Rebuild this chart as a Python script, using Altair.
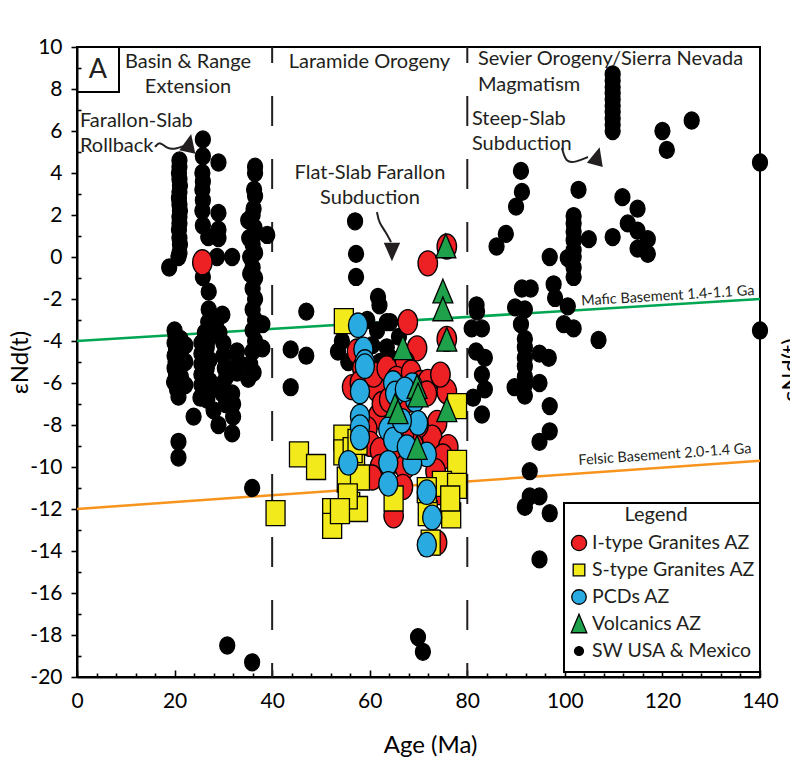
import altair as alt
import pandas as pd

FONT = "Lato"
INK = "#231F20"

# ---------------- data ----------------
sw_age = [
    21.0, 21.0, 20.9, 21.0, 21.1, 21.0, 20.9, 21.0, 21.1, 21.0, 21.0, 20.9, 21.0, 21.1, 21.0, 20.8,
    18.9,
    20.0, 20.2, 20.0, 20.3, 20.0, 20.2, 20.0, 20.3, 19.9, 20.5, 20.8, 21.2, 21.4, 21.3,
    22.2, 22.2, 22.2, 20.8, 20.8, 23.9,
    25.8, 25.8, 25.7, 25.8, 25.7, 25.8, 25.7, 25.8, 26.9, 25.8, 27.0, 27.0, 26.9, 26.2, 25.5, 25.5,
    25.5, 25.5, 25.5, 25.3, 26.6, 26.6, 27.2, 27.6, 26.7, 28.0, 27.0, 27.2,
    29.0, 29.0, 29.0, 29.0, 28.7, 31.8,
    29.8, 28.7, 30.0, 30.0, 30.3, 30.0, 29.8, 30.5, 29.0, 29.2, 30.6,
    31.8, 32.0, 32.0, 31.8, 32.8, 32.8, 33.0,
    36.5, 36.5, 36.3, 36.5, 36.2, 36.0, 35.1, 36.4, 36.2, 35.3, 36.0, 35.5, 36.5, 36.0, 35.5, 36.5,
    36.0, 36.5, 36.0, 36.5, 36.0, 36.5, 36.0, 35.5, 35.1, 36.2,
    39.0, 38.0, 38.0, 35.9, 30.8, 35.9,
    57.0, 57.2, 57.2, 61.7, 62.0, 47.0, 43.8, 47.0, 43.8, 63.5, 61.5, 64.2, 54.3, 53.5, 55.6, 62.1,
    63.5, 64.2, 60.5, 59.5, 66.0, 69.9, 70.9,
    81.9, 82.0, 80.9, 83.0, 81.8, 83.6, 83.0, 83.6, 81.2, 83.0,
    86.0, 87.9, 90.0, 91.2, 91.0,
    89.8, 91.8, 91.0, 91.8, 91.8, 91.8, 91.8, 91.8, 91.8, 91.8, 89.7,
    91.2, 93.0,
    94.8, 96.7, 94.8, 96.9, 96.9, 94.8, 92.8, 92.8, 94.8, 91.8, 96.9, 94.8,
    96.9, 97.7, 98.0, 100.6, 99.8, 101.8, 106.9,
    102.8, 101.8, 101.8, 101.8, 101.8, 101.8, 101.8, 101.8, 101.8, 100.6, 104.9,
    109.8, 109.8, 109.8, 109.8, 109.8, 109.8, 109.8, 109.8, 109.8, 109.8,
    109.8, 111.8, 114.9, 112.9, 114.9, 117.0, 114.9, 117.0,
    120.0, 120.9, 126.0,
    140.0, 140.0,
]
sw_end = [
    4.6, 4.3, 4.0, 3.7, 3.4, 3.1, 2.8, 2.5, 2.2, 1.9, 1.6, 1.3, 0.9, 0.6, 0.2, 0.0,
    -0.5,
    -3.5, -3.8, -4.1, -4.4, -4.7, -5.0, -5.3, -5.6, -5.95, -6.3, -6.65, -3.9, -4.8, -5.7,
    -4.2, -5.0, -6.1, -8.8, -9.55, -7.6,
    5.6, 4.8, 4.0, 3.6, 3.2, 2.7, 2.2, 1.5, 0.95, -0.95, -1.65, -2.5, -3.1, -3.6, -4.1, -4.6,
    -5.1, -5.6, -6.1, -6.7, -4.3, -5.3, -5.9, -6.3, -6.8, -7.3, -3.9, -4.9,
    4.5, 2.1, 1.3, 0.9, 0.0, 0.0,
    -2.75, -3.0, -4.1, -4.7, -5.3, -6.0, -6.5, -7.0, -8.0, -3.6, -5.7,
    -6.5, -7.0, -7.6, -8.4, -4.5, -5.5, -5.0,
    4.3, 4.0, 3.2, 2.9, 2.3, 2.0, 1.75, 1.4, 1.0, 0.9, 0.6, 0.0, 0.2, -0.5, -0.8, -1.0,
    -1.5, -2.0, -2.5, -3.0, -3.5, -4.0, -4.5, -5.1, -5.8, -5.5,
    1.05, -3.2, -4.35, -11.0, -18.5, -19.3,
    1.7, 0.15, -0.95, -1.9, -2.3, -2.6, -4.4, -4.7, -6.2, -3.1, -3.5, -3.1, -4.0, -4.5, -5.0, -5.0,
    -4.3, -4.8, -4.2, -3.0, -3.8, -18.1, -18.8,
    -2.3, -2.6, -3.4, -3.4, -4.5, -4.8, -5.6, -6.3, -6.7, -7.5,
    0.5, 1.1, 2.4, 3.1, 4.1,
    -2.4, -2.5, -3.2, -3.9, -4.3, -4.8, -5.2, -5.7, -6.1, -6.6, -6.2,
    -1.5, -1.5,
    -4.6, -4.8, -6.0, -7.1, -8.3, -8.8, -10.2, -11.4, -11.4, -11.9, -12.2, -14.4,
    0.0, -1.3, -1.95, -2.35, -3.2, -3.4, -3.95,
    3.2, 1.95, 1.6, 1.2, 0.8, 0.33, 0.0, -0.5, -0.95, -0.05, 0.85,
    8.7, 8.4, 8.1, 7.8, 7.5, 7.2, 6.9, 6.6, 6.3, 6.0,
    0.95, 2.85, 2.3, 1.6, 1.25, 0.85, 0.4, 0.15,
    6.0, 5.1, 6.5,
    4.5, -3.5,
]

itype_age = [25.7, 71.9, 75.8, 75.8, 67.8, 69.7, 67.2, 57.4, 58.5, 56.4, 58.0, 61.5, 60.8, 63.5, 65.5,
             68.5, 61.7, 62.5, 64.0, 66.0, 68.0, 70.5, 71.9, 71.7, 73.8, 75.8, 74.5, 72.8, 76.1, 75.0,
             70.0, 69.0, 67.0, 65.0, 59.5, 60.1, 62.1, 62.1, 64.8, 67.2, 66.8, 64.9, 73.8, 60.5, 73.5,
             74.5]
itype_end = [-0.25, -0.3, 0.5, -3.9, -3.1, -4.35, -5.05, -4.5, -5.3, -6.2, -6.0, -6.3, -5.6, -5.3, -5.8,
             -5.5, -7.6, -7.0, -6.8, -7.4, -6.8, -6.0, -5.95, -6.5, -7.9, -6.4, -5.6, -8.6, -9.05, -9.5,
             -8.0, -9.0, -8.5, -8.2, -8.2, -8.9, -9.2, -10.0, -9.7, -10.0, -10.95, -12.3, -13.6, -10.5, -10.2,
             -11.2]

stype_age = [54.7, 45.5, 49.0, 40.7, 54.6, 54.6, 57.0, 55.3, 58.0, 52.3, 52.3, 56.0, 57.6, 55.5, 53.9,
             56.5, 64.9, 77.9, 77.9, 74.8, 77.9, 76.7, 71.9, 72.5, 71.7, 76.5, 57.5]
stype_end = [-3.05, -9.4, -10.0, -12.2, -8.6, -9.3, -10.0, -10.6, -10.5, -12.1, -12.8, -11.8, -12.0, -11.4, -12.1,
             -9.2, -11.5, -7.1, -9.8, -10.8, -10.9, -12.3, -12.2, -13.6, -11.1, -11.5, -8.8]

pcd_age = [57.6, 58.7, 59.0, 59.0, 58.0, 58.0, 58.0, 58.0, 55.6, 64.8, 65.2, 68.7, 69.3, 69.9, 63.8,
           64.8, 63.8, 63.8, 71.7, 71.7, 72.8, 71.7, 68.7, 67.6, 66.6, 67.2]
pcd_end = [-3.25, -4.4, -5.0, -5.2, -6.4, -7.6, -8.1, -8.6, -9.8, -6.0, -6.5, -6.1, -6.8, -7.9, -8.2,
           -8.7, -9.8, -10.8, -9.4, -11.2, -12.4, -13.7, -9.8, -9.05, -7.8, -6.3]

volc_age = [75.6, 75.0, 75.0, 75.8, 66.8, 69.7, 69.9, 65.2, 65.8, 75.8, 69.7]
volc_end = [0.5, -1.65, -2.5, -3.95, -4.35, -6.2, -6.6, -7.1, -7.4, -7.3, -9.1]

groups = ["I-type Granites AZ", "S-type Granites AZ", "PCDs AZ", "Volcanics AZ", "SW USA & Mexico"]
group_colors = ["#ED2024", "#F3EA1B", "#29ABE2", "#1FA04A", "#000000"]

dashed_ages = [40, 80]
basement_names = ["Mafic Basement 1.4-1.1 Ga", "Felsic Basement 2.0-1.4 Ga"]
basement_start = [-4.0, -12.0]
basement_end = [-2.0, -9.7]

x_ticks = list(range(0, 141, 4))
y_ticks = list(range(-20, 11))

# ---------------- styling ----------------
ELLIPSE = "M0,-1A0.78,1 0 1,1 0,1A0.78,1 0 1,1 0,-1Z"
RECT = "M-0.76,-1L0.76,-1L0.76,1L-0.76,1Z"
TRI = "M0,-1L0.8,0.9L-0.8,0.9Z"
DOT = "M0,-1A0.88,1 0 1,1 0,1A0.88,1 0 1,1 0,-1Z"
HEAD = "M0,-1L0.8,0.8L-0.8,0.8Z"
group_shapes = [ELLIPSE, RECT, ELLIPSE, TRI, DOT]
group_sizes = [625, 625, 600, 625, 289]
legend_shapes = ["circle", "square", "circle", TRI, "circle"]
legend_sizes = [230, 135, 210, 380, 80]

W, H = 683, 630
PX_PER_X = W / 140.0
PX_PER_Y = H / 30.0


def px_to_x(px):
    return (px - 77) / PX_PER_X


def py_to_y(py):
    return 10 - (py - 47) / PX_PER_Y


XSCALE = alt.Scale(domain=[0, 140], nice=False, zero=False)
YSCALE = alt.Scale(domain=[-20, 10], nice=False, zero=False)

XAXIS = alt.Axis(
    title="Age (Ma)", values=x_ticks, grid=False,
    labelExpr="datum.value % 20 === 0 ? '' + datum.value : ''",
    tickSize={"expr": "datum.value % 20 === 0 ? -7 : -4"},
    labelPadding=20, labelFlush=False, labelOverlap=False, labelBound=False,
    labelFont=FONT, labelFontSize=21, labelColor="black",
    titleFont=FONT, titleFontSize=24, titleFontWeight="normal", titleColor="black",
    titleX=353, titleY=68, titleBaseline="middle",
    domainColor="black", domainWidth=2, tickColor="black", tickWidth=1.6,
)
YAXIS = alt.Axis(
    title="εNd(t)", values=y_ticks, grid=False,
    labelExpr="datum.value % 2 === 0 ? '' + datum.value : ''",
    tickSize={"expr": "datum.value % 2 === 0 ? 6 : -4"},
    labelPadding=9, labelFlush=False, labelOverlap=False, labelBound=False,
    labelFont=FONT, labelFontSize=21, labelColor="black",
    titleFont=FONT, titleFontSize=24, titleFontWeight="normal", titleColor="black",
    titleX=-57, titleY=315, titleAngle=270, titleBaseline="middle", titleAlign="center",
    domainColor="black", domainWidth=2, tickColor="black", tickWidth=1.6,
)


def xy(xf="x", yf="y"):
    return dict(x=alt.X(f"{xf}:Q", scale=XSCALE, axis=XAXIS),
                y=alt.Y(f"{yf}:Q", scale=YSCALE, axis=YAXIS))


# ---------------- tables ----------------
rows = []
for g, ages, ends in [
    ("SW USA & Mexico", sw_age, sw_end),
    ("I-type Granites AZ", itype_age, itype_end),
    ("S-type Granites AZ", stype_age, stype_end),
    ("PCDs AZ", pcd_age, pcd_end),
    ("Volcanics AZ", volc_age, volc_end),
]:
    for a, e in zip(ages, ends):
        rows.append({"x": a, "y": e, "group": g})
points_df = pd.DataFrame(rows)

points = alt.Chart(points_df).mark_point(filled=True, opacity=1, stroke="black", strokeWidth=1.3).encode(
    **xy(),
    fill=alt.Fill("group:N", scale=alt.Scale(domain=groups, range=group_colors), legend=None),
    shape=alt.Shape("group:N", scale=alt.Scale(domain=groups, range=group_shapes), legend=None),
    size=alt.Size("group:N", scale=alt.Scale(type="ordinal", domain=groups, range=group_sizes), legend=None),
)

dash_df = pd.DataFrame({"x": dashed_ages, "y": [10, 10], "y2": [-20, -20]})
dashes = alt.Chart(dash_df).mark_rule(color=INK, strokeWidth=2, strokeDash=[30, 33], strokeDashOffset=14).encode(
    **xy(), y2="y2:Q")

mafic_df = pd.DataFrame({"x": [0], "y": [basement_start[0]], "x2": [140], "y2": [basement_end[0]]})
felsic_df = pd.DataFrame({"x": [0], "y": [basement_start[1]], "x2": [140], "y2": [basement_end[1]]})
mafic = alt.Chart(mafic_df).mark_rule(color="#00A651", strokeWidth=2.5).encode(**xy(), x2="x2:Q", y2="y2:Q")
felsic = alt.Chart(felsic_df).mark_rule(color="#F7941D", strokeWidth=2.5).encode(**xy(), x2="x2:Q", y2="y2:Q")

base_lbl_df = pd.DataFrame({"x": [138.9, 138.3], "y": [-1.81, -9.33], "t": basement_names, "ang": [356.5, 356.0]})
base_lbl = alt.Chart(base_lbl_df).mark_text(align="right", baseline="alphabetic", font=FONT, fontSize=14.5,
                                            color=INK).encode(**xy(), text="t:N",
                                                              angle=alt.Angle("ang:Q", scale=None))

center_txt = pd.DataFrame({
    "x": [22.75, 22.75, 59.95, 60.05, 60.05],
    "y": [9.29, 8.10, 9.29, 4.00, 2.81],
    "t": ["Basin & Range", "Extension", "Laramide Orogeny", "Flat-Slab Farallon", "Subduction"],
})
left_txt = pd.DataFrame({
    "x": [82.19, 82.19, 0.61, 0.61, 80.96, 80.96],
    "y": [9.43, 8.19, 6.48, 5.29, 6.57, 5.38],
    "t": ["Sevier Orogeny/Sierra Nevada", "Magmatism", "Farallon-Slab", "Rollback", "Steep-Slab", "Subduction"],
})
ctext = alt.Chart(center_txt).mark_text(align="center", baseline="middle", font=FONT, fontSize=20,
                                        color=INK).encode(**xy(), text="t:N")
ltext = alt.Chart(left_txt).mark_text(align="left", baseline="middle", font=FONT, fontSize=20,
                                      color=INK).encode(**xy(), text="t:N")

a_box_df = pd.DataFrame({"x": [0], "x2": [8.61], "y": [10], "y2": [7.86]})
a_box = alt.Chart(a_box_df).mark_rect(fillOpacity=0, stroke="black", strokeWidth=2).encode(
    **xy(), x2="x2:Q", y2="y2:Q")
a_txt = alt.Chart(pd.DataFrame({"x": [4.3], "y": [8.9], "t": ["A"]})).mark_text(
    align="center", baseline="middle", font=FONT, fontSize=27, color=INK).encode(**xy(), text="t:N")

curve_df = pd.DataFrame({
    "arrow": ["a"] * 5 + ["b"] * 4 + ["c"] * 4,
    "i": [0, 1, 2, 3, 4, 0, 1, 2, 3, 0, 1, 2, 3],
    "x": [15.99, 17.01, 18.45, 20.29, 21.93, 61.49, 61.90, 63.33, 64.36, 99.41, 100.23, 102.27, 104.73],
    "y": [5.24, 5.52, 5.14, 5.14, 5.29, 2.14, 1.62, 1.19, 0.71, 5.19, 4.48, 4.52, 4.76],
})
curves = alt.Chart(curve_df).mark_line(interpolate="basis", color=INK, strokeWidth=2).encode(
    **xy(), detail="arrow:N", order="i:Q")
heads_df = pd.DataFrame({"x": [22.96, 64.56, 106.58], "y": [5.38, 0.29, 4.76], "ang": [12, 180, 15]})
heads = alt.Chart(heads_df).mark_point(filled=True, shape=HEAD, size=420, color=INK, opacity=1).encode(
    **xy(), angle=alt.Angle("ang:Q", scale=None))

# ---------------- legend box (drawn with marks) ----------------
leg_box_df = pd.DataFrame({"x": [px_to_x(564)], "x2": [140], "y": [py_to_y(503)], "y2": [py_to_y(672)]})
leg_box = alt.Chart(leg_box_df).mark_rect(fill="white", stroke="black", strokeWidth=2).encode(
    **xy(), x2="x2:Q", y2="y2:Q")
leg_title = alt.Chart(pd.DataFrame({"x": [px_to_x(656)], "y": [py_to_y(515)], "t": ["Legend"]})).mark_text(
    align="center", baseline="middle", font=FONT, fontSize=20, color=INK).encode(**xy(), text="t:N")
row_py = [543, 570, 597, 624, 651]
leg_lbl_df = pd.DataFrame({"x": [px_to_x(592)] * 5, "y": [py_to_y(p) for p in row_py], "t": groups})
leg_labels = alt.Chart(leg_lbl_df).mark_text(
    align="left", baseline="middle", font=FONT, fontSize=19.5, color=INK).encode(**xy(), text="t:N")
leg_syms = []
for i, g in enumerate(groups):
    d = pd.DataFrame({"x": [px_to_x(579)], "y": [py_to_y(row_py[i])]})
    leg_syms.append(
        alt.Chart(d).mark_point(filled=True, opacity=1, shape=legend_shapes[i], size=legend_sizes[i],
                                fill=group_colors[i], stroke="black", strokeWidth=1.3).encode(**xy())
    )

right_title = alt.Chart(pd.DataFrame({"t": ["εNd(t)"]})).mark_text(
    align="center", baseline="middle", font=FONT, fontSize=24, angle=270, color="black").encode(
    text="t:N", x=alt.value(715), y=alt.value(323))

chart = alt.layer(
    mafic, felsic, dashes, points, base_lbl, ctext, ltext, a_box, a_txt, curves, heads,
    leg_box, leg_title, leg_labels, *leg_syms, right_title
).properties(
    width=W, height=H, autosize="none",
    padding={"left": 77, "top": 47, "right": 30, "bottom": 81},
).configure_view(stroke="black", strokeWidth=2)

chart.save("out.html", embed_options={"renderer": "svg", "actions": False})
